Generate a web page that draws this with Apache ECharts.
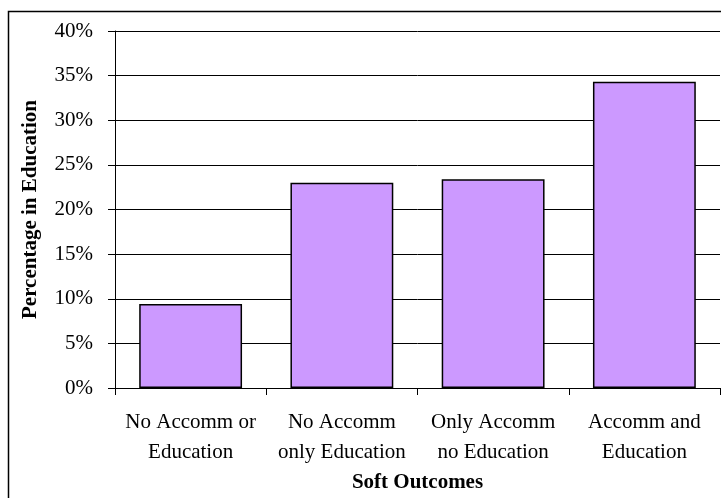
<!DOCTYPE html>
<html>
<head>
<meta charset="utf-8">
<script src="https://cdn.jsdelivr.net/npm/echarts@6/dist/echarts.min.js"></script>
<style>
  html, body { margin: 0; padding: 0; background: #fff; }
  #chart { width: 721px; height: 498px; }
</style>
</head>
<body>
<div id="chart"></div>
<script>
// Share of young people in education, by soft outcome group
const categories = [
  'No Accomm or\nEducation',
  'No Accomm\nonly Education',
  'Only Accomm\nno Education',
  'Accomm and\nEducation'
];
const percentInEducation = [9.4, 23.0, 23.4, 34.3];
const yTicks = { min: 0, max: 40, step: 5 };

const serif = '"Liberation Serif", "Times New Roman", serif';

const chart = echarts.init(document.getElementById('chart'), null, { renderer: 'canvas' });

chart.setOption({
  animation: false,
  backgroundColor: '#ffffff',
  graphic: [{
    type: 'rect',
    left: 6, top: 9,
    shape: { x: 0, y: 0, width: 760, height: 540 },
    style: { fill: 'none', stroke: '#000', lineWidth: 1.5 },
    z: 0
  }],
  grid: { left: 115, top: 31, right: 1, bottom: 110, containLabel: false, outerBoundsMode: 'none' },
  xAxis: {
    type: 'category',
    data: categories,
    name: 'Soft Outcomes',
    nameLocation: 'middle',
    nameGap: 79,
    nameTextStyle: { fontFamily: serif, fontSize: 21, fontWeight: 'bold', color: '#000' },
    axisLine: { show: true, lineStyle: { color: '#000', width: 1 } },
    axisTick: { show: true, alignWithLabel: false, length: 7, lineStyle: { color: '#000' } },
    axisLabel: { fontFamily: serif, fontSize: 21, color: '#000', margin: 19, lineHeight: 30, interval: 0 }
  },
  yAxis: {
    type: 'value',
    min: yTicks.min, max: yTicks.max, interval: yTicks.step,
    name: 'Percentage in Education',
    nameLocation: 'middle',
    nameGap: 74,
    nameTextStyle: { fontFamily: serif, fontSize: 21, fontWeight: 'bold', color: '#000' },
    axisLine: { show: true, lineStyle: { color: '#000', width: 1 } },
    axisTick: { show: true, inside: false, length: 7, lineStyle: { color: '#000' } },
    axisLabel: { fontFamily: serif, fontSize: 21, color: '#000', margin: 22, formatter: '{value}%' },
    splitLine: { show: true, lineStyle: { color: '#000', width: 1 } }
  },
  series: [{
    type: 'bar',
    data: percentInEducation,
    barCategoryGap: '32%',
    itemStyle: { color: '#cc99ff', borderColor: '#000', borderWidth: 1.5 }
  }]
});
</script>
</body>
</html>
